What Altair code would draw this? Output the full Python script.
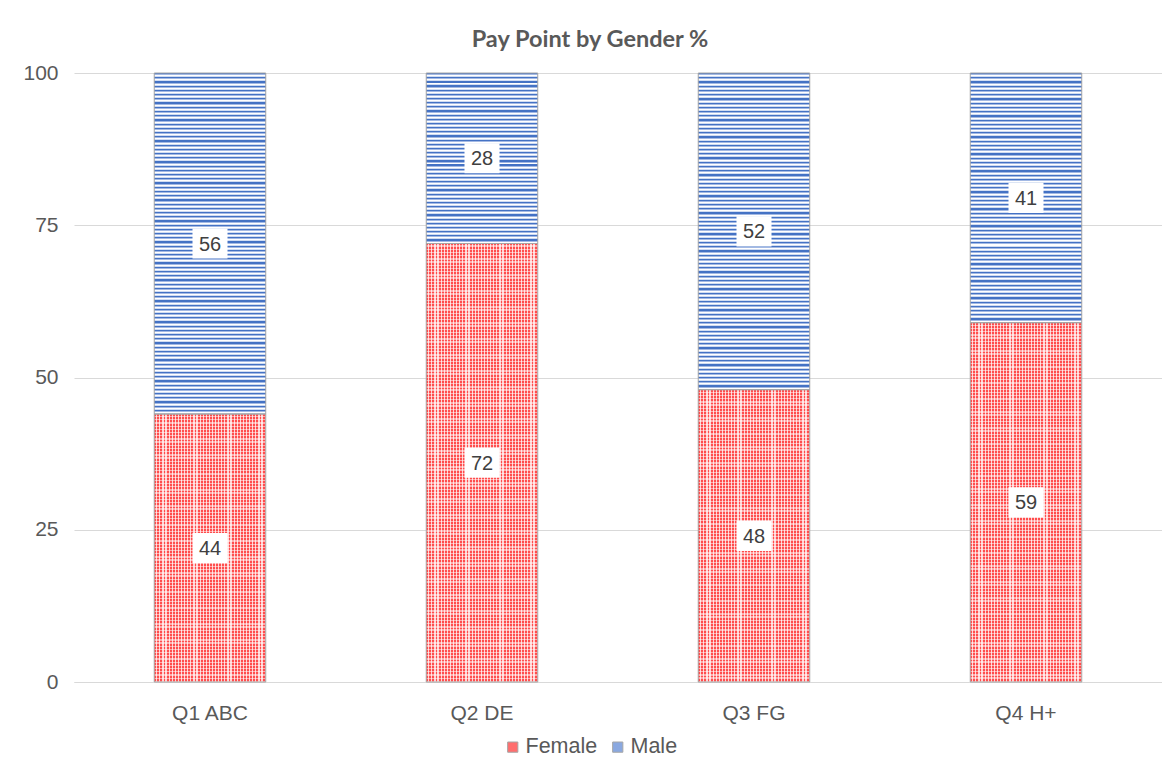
import altair as alt
import pandas as pd

categories = ["Q1 ABC", "Q2 DE", "Q3 FG", "Q4 H+"]
female = [44, 72, 48, 59]
male = [56, 28, 52, 41]
series = ["Female", "Male"]
y_ticks = [0, 25, 50, 75, 100]

rows = []
for c, f, m in zip(categories, female, male):
    rows.append({"cat": c, "gender": "Female", "value": f, "order": 0})
    rows.append({"cat": c, "gender": "Male", "value": m, "order": 1})
df = pd.DataFrame(rows)

W, H = 1088, 609
FONT = "Liberation Sans"
GREY = "#595959"


def stripes(n, colors, widths, horizontal_bands=True):
    """Hard-stop gradient with n periods; colors/widths describe one period."""
    stops = []
    tot = sum(widths)
    for i in range(n):
        acc = 0.0
        for col, w in zip(colors, widths):
            a = (i + acc / tot) / n
            acc += w
            b = (i + acc / tot) / n
            stops.append({"offset": round(a, 5), "color": col})
            stops.append({"offset": round(b, 5), "color": col})
    g = {"gradient": "linear", "stops": stops}
    if horizontal_bands:
        g.update({"x1": 0, "x2": 0, "y1": 0, "y2": 1})
    else:
        g.update({"x1": 0, "x2": 1, "y1": 0, "y2": 0})
    return g


x_enc = alt.X("cat:N", sort=categories, title=None,
              scale=alt.Scale(paddingInner=0.59, paddingOuter=0.295),
              axis=alt.Axis(labelAngle=0, labelFont=FONT, labelFontSize=21,
                            labelColor=GREY, ticks=False, domainColor="#d9d9d9",
                            labelPadding=20))
y_scale = alt.Scale(domain=[0, 100])

base = alt.Chart(df).transform_stack(
    stack="value", groupby=["cat"], as_=["y0", "y1"],
    sort=[alt.SortField("order", order="ascending")]
).transform_calculate(mid="(datum.y0 + datum.y1) / 2")

main = base.mark_bar().encode(
    x=x_enc,
    y=alt.Y("y1:Q", scale=y_scale, title=None,
            axis=alt.Axis(values=y_ticks, labelFont=FONT, labelFontSize=21,
                          labelColor=GREY, ticks=False, domain=False,
                          gridColor="#d9d9d9", labelPadding=16)),
    y2="y0:Q",
    color=alt.Color("gender:N", sort=series,
                    scale=alt.Scale(domain=series, range=["#ff6e6e", "#8aa8e0"]),
                    legend=alt.Legend(title=None, orient="none", direction="horizontal",
                                      legendX=428, legendY=663, labelFont=FONT,
                                      labelFontSize=21.5, labelColor=GREY,
                                      symbolType="square", symbolSize=105,
                                      symbolStrokeColor="#a6a6a6", symbolStrokeWidth=1,
                                      columnPadding=9, labelOffset=2)),
)

layers = [main]
for c, f, m in zip(categories, female, male):
    for g, v in (("Female", f), ("Male", m)):
        h = v / 100 * H
        if g == "Male":
            n = max(1, round(h / 4.2))
            fill = stripes(n, ["#4472c4", "#a3b9e4", "#ffffff", "#d0dcf2"], [1.2, 1.0, 1.0, 1.0])
        else:
            n = max(1, round(h / 3.2))
            fill = stripes(n, ["#ff4d4d", "#ffaaaa"], [1.9, 1.3])
        layers.append(
            base.transform_filter(
                (alt.datum.cat == c) & (alt.datum.gender == g)
            ).mark_bar(fill=fill).encode(x=alt.X("cat:N", sort=categories), y=alt.Y("y1:Q", scale=y_scale), y2="y0:Q")
        )

# vertical white lines over female bars to give the checked pattern
vfill = stripes(36, ["rgba(255,255,255,0)", "rgba(255,255,255,0.75)"], [1.9, 1.2], horizontal_bands=False)
layers.append(
    base.transform_filter(alt.datum.gender == "Female").mark_bar(fill=vfill).encode(
        x=alt.X("cat:N", sort=categories), y=alt.Y("y1:Q", scale=y_scale), y2="y0:Q")
)

# outline
layers.append(
    base.mark_bar(fillOpacity=0, stroke="#a6a6a6", strokeWidth=1).encode(
        x=alt.X("cat:N", sort=categories), y=alt.Y("y1:Q", scale=y_scale), y2="y0:Q")
)

boxes = base.mark_point(
    shape="M-1,-0.86L1,-0.86L1,0.86L-1,0.86Z", filled=True, fill="white",
    fillOpacity=1, opacity=1, size=35 * 35, strokeWidth=0
).encode(x=alt.X("cat:N", sort=categories), y=alt.Y("mid:Q", scale=y_scale))

labels = base.mark_text(font=FONT, fontSize=20, color="#404040", baseline="middle", dy=1).encode(
    x=alt.X("cat:N", sort=categories), y=alt.Y("mid:Q", scale=y_scale), text="value:Q")

layers += [boxes, labels]

chart = alt.layer(*layers).properties(
    width=W, height=H,
    title=alt.TitleParams("Pay Point by Gender %", font="Lato", fontSize=23.5,
                          fontWeight="bold", color=GREY, anchor="middle", dx=-28, offset=11),
    autosize=alt.AutoSizeParams(type="none"),
    padding={"left": 66, "top": 65, "right": 0, "bottom": 80},
).configure_view(stroke=None).configure_axisY(grid=True).configure_axisX(grid=False)

chart.save("out.html", embed_options={"renderer": "svg", "actions": False})
